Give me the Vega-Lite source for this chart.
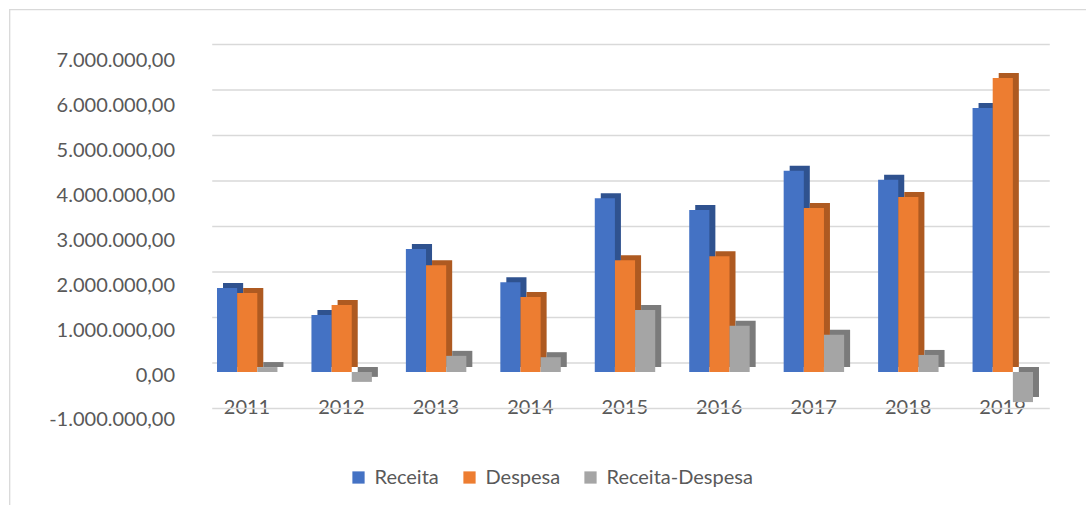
{
  "$schema": "https://vega.github.io/schema/vega-lite/v6.json",
  "width": 1090,
  "height": 500,
  "autosize": "none",
  "padding": {"left": 9.5, "top": 9.5, "right": 0, "bottom": 0},
  "background": "white",
  "config": {
    "locale": {"number": {"decimal": ",", "thousands": ".", "grouping": [3], "currency": ["R$", ""], "minus": "-"}},
    "view": {"stroke": "#d9d9d9", "strokeWidth": 1.3},
    "font": "Lato"
  },
  "datasets": {
    "bars": [
      {"year": "2011", "series": "Receita", "value": 1870000},
      {"year": "2011", "series": "Despesa", "value": 1760000},
      {"year": "2011", "series": "Receita-Despesa", "value": 110000},
      {"year": "2012", "series": "Receita", "value": 1270000},
      {"year": "2012", "series": "Despesa", "value": 1490000},
      {"year": "2012", "series": "Receita-Despesa", "value": -220000},
      {"year": "2013", "series": "Receita", "value": 2740000},
      {"year": "2013", "series": "Despesa", "value": 2380000},
      {"year": "2013", "series": "Receita-Despesa", "value": 360000},
      {"year": "2014", "series": "Receita", "value": 2000000},
      {"year": "2014", "series": "Despesa", "value": 1670000},
      {"year": "2014", "series": "Receita-Despesa", "value": 330000},
      {"year": "2015", "series": "Receita", "value": 3870000},
      {"year": "2015", "series": "Despesa", "value": 2490000},
      {"year": "2015", "series": "Receita-Despesa", "value": 1380000},
      {"year": "2016", "series": "Receita", "value": 3610000},
      {"year": "2016", "series": "Despesa", "value": 2580000},
      {"year": "2016", "series": "Receita-Despesa", "value": 1030000},
      {"year": "2017", "series": "Receita", "value": 4480000},
      {"year": "2017", "series": "Despesa", "value": 3650000},
      {"year": "2017", "series": "Receita-Despesa", "value": 830000},
      {"year": "2018", "series": "Receita", "value": 4280000},
      {"year": "2018", "series": "Despesa", "value": 3900000},
      {"year": "2018", "series": "Receita-Despesa", "value": 380000},
      {"year": "2019", "series": "Receita", "value": 5880000},
      {"year": "2019", "series": "Despesa", "value": 6550000},
      {"year": "2019", "series": "Receita-Despesa", "value": -670000}
    ],
    "grid": [
      {"v": -1000000}, {"v": 0}, {"v": 1000000}, {"v": 2000000}, {"v": 3000000},
      {"v": 4000000}, {"v": 5000000}, {"v": 6000000}, {"v": 7000000}
    ]
  },
  "layer": [
    {
      "data": {"name": "grid"},
      "mark": {"type": "rule", "color": "#d9d9d9", "strokeWidth": 1.5, "xOffset": -35, "x2Offset": 47},
      "encoding": {
        "x": {"datum": "2011", "type": "nominal"},
        "x2": {"datum": "2019"},
        "y": {
          "field": "v", "type": "quantitative",
          "scale": {"domain": [-3220000, 7769000], "nice": false, "zero": false},
          "axis": null
        }
      }
    },
    {
      "data": {"name": "bars"},
      "layer": [
        {
          "mark": {"type": "bar", "yOffset": -5},
          "encoding": {
            "x": {
              "field": "year", "type": "nominal",
              "scale": {"domain": ["2011", "2012", "2013", "2014", "2015", "2016", "2017", "2018", "2019"], "range": [190.5, 1040.5], "paddingInner": 0.36, "paddingOuter": 0.18},
              "axis": {"title": null, "labelAngle": 0, "domain": false, "ticks": false, "labelFontSize": 20, "labelColor": "#595959", "labelPadding": -102.5, "labelOffset": 23}
            },
            "xOffset": {"field": "series", "type": "nominal", "sort": ["Receita", "Despesa", "Receita-Despesa"], "scale": {"range": [6, 66.44]}},
            "y": {
              "field": "value", "type": "quantitative", "title": null,
              "scale": {"domain": [-3062000, 8073500], "nice": false, "zero": false},
              "axis": {
                "title": null, "grid": false, "domain": false, "ticks": false,
                "values": [-1000000, 0, 1000000, 2000000, 3000000, 4000000, 5000000, 6000000, 7000000],
                "format": ",.2f", "labelFontSize": 20, "labelColor": "#595959", "labelPadding": -165, "labelAlign": "right", "labelOffset": 3
              }
            },
            "color": {
              "field": "series", "type": "nominal", "legend": null,
              "scale": {"domain": ["Receita", "Despesa", "Receita-Despesa"], "range": ["#2F528F", "#AE5A21", "#7B7B7B"]}
            }
          }
        },
        {
          "mark": {"type": "bar"},
          "encoding": {
            "x": {"field": "year", "type": "nominal"},
            "xOffset": {"field": "series", "type": "nominal", "sort": ["Receita", "Despesa", "Receita-Despesa"], "scale": {"range": [0, 60.44]}},
            "y": {"field": "value", "type": "quantitative", "title": null},
            "color": {
              "field": "series", "type": "nominal",
              "scale": {"domain": ["Receita", "Despesa", "Receita-Despesa"], "range": ["#4472C4", "#ED7D31", "#A5A5A5"]},
              "legend": {
                "title": null, "orient": "none", "legendX": 339, "legendY": 458, "direction": "horizontal",
                "symbolType": "square", "symbolSize": 150, "symbolStrokeWidth": 0, "symbolOpacity": 1,
                "labelFontSize": 20, "labelColor": "#595959", "columnPadding": 20, "labelOffset": 6
              }
            }
          }
        }
      ],
      "resolve": {"scale": {"color": "independent", "xOffset": "independent"}}
    }
  ],
  "resolve": {"scale": {"y": "independent"}}
}
